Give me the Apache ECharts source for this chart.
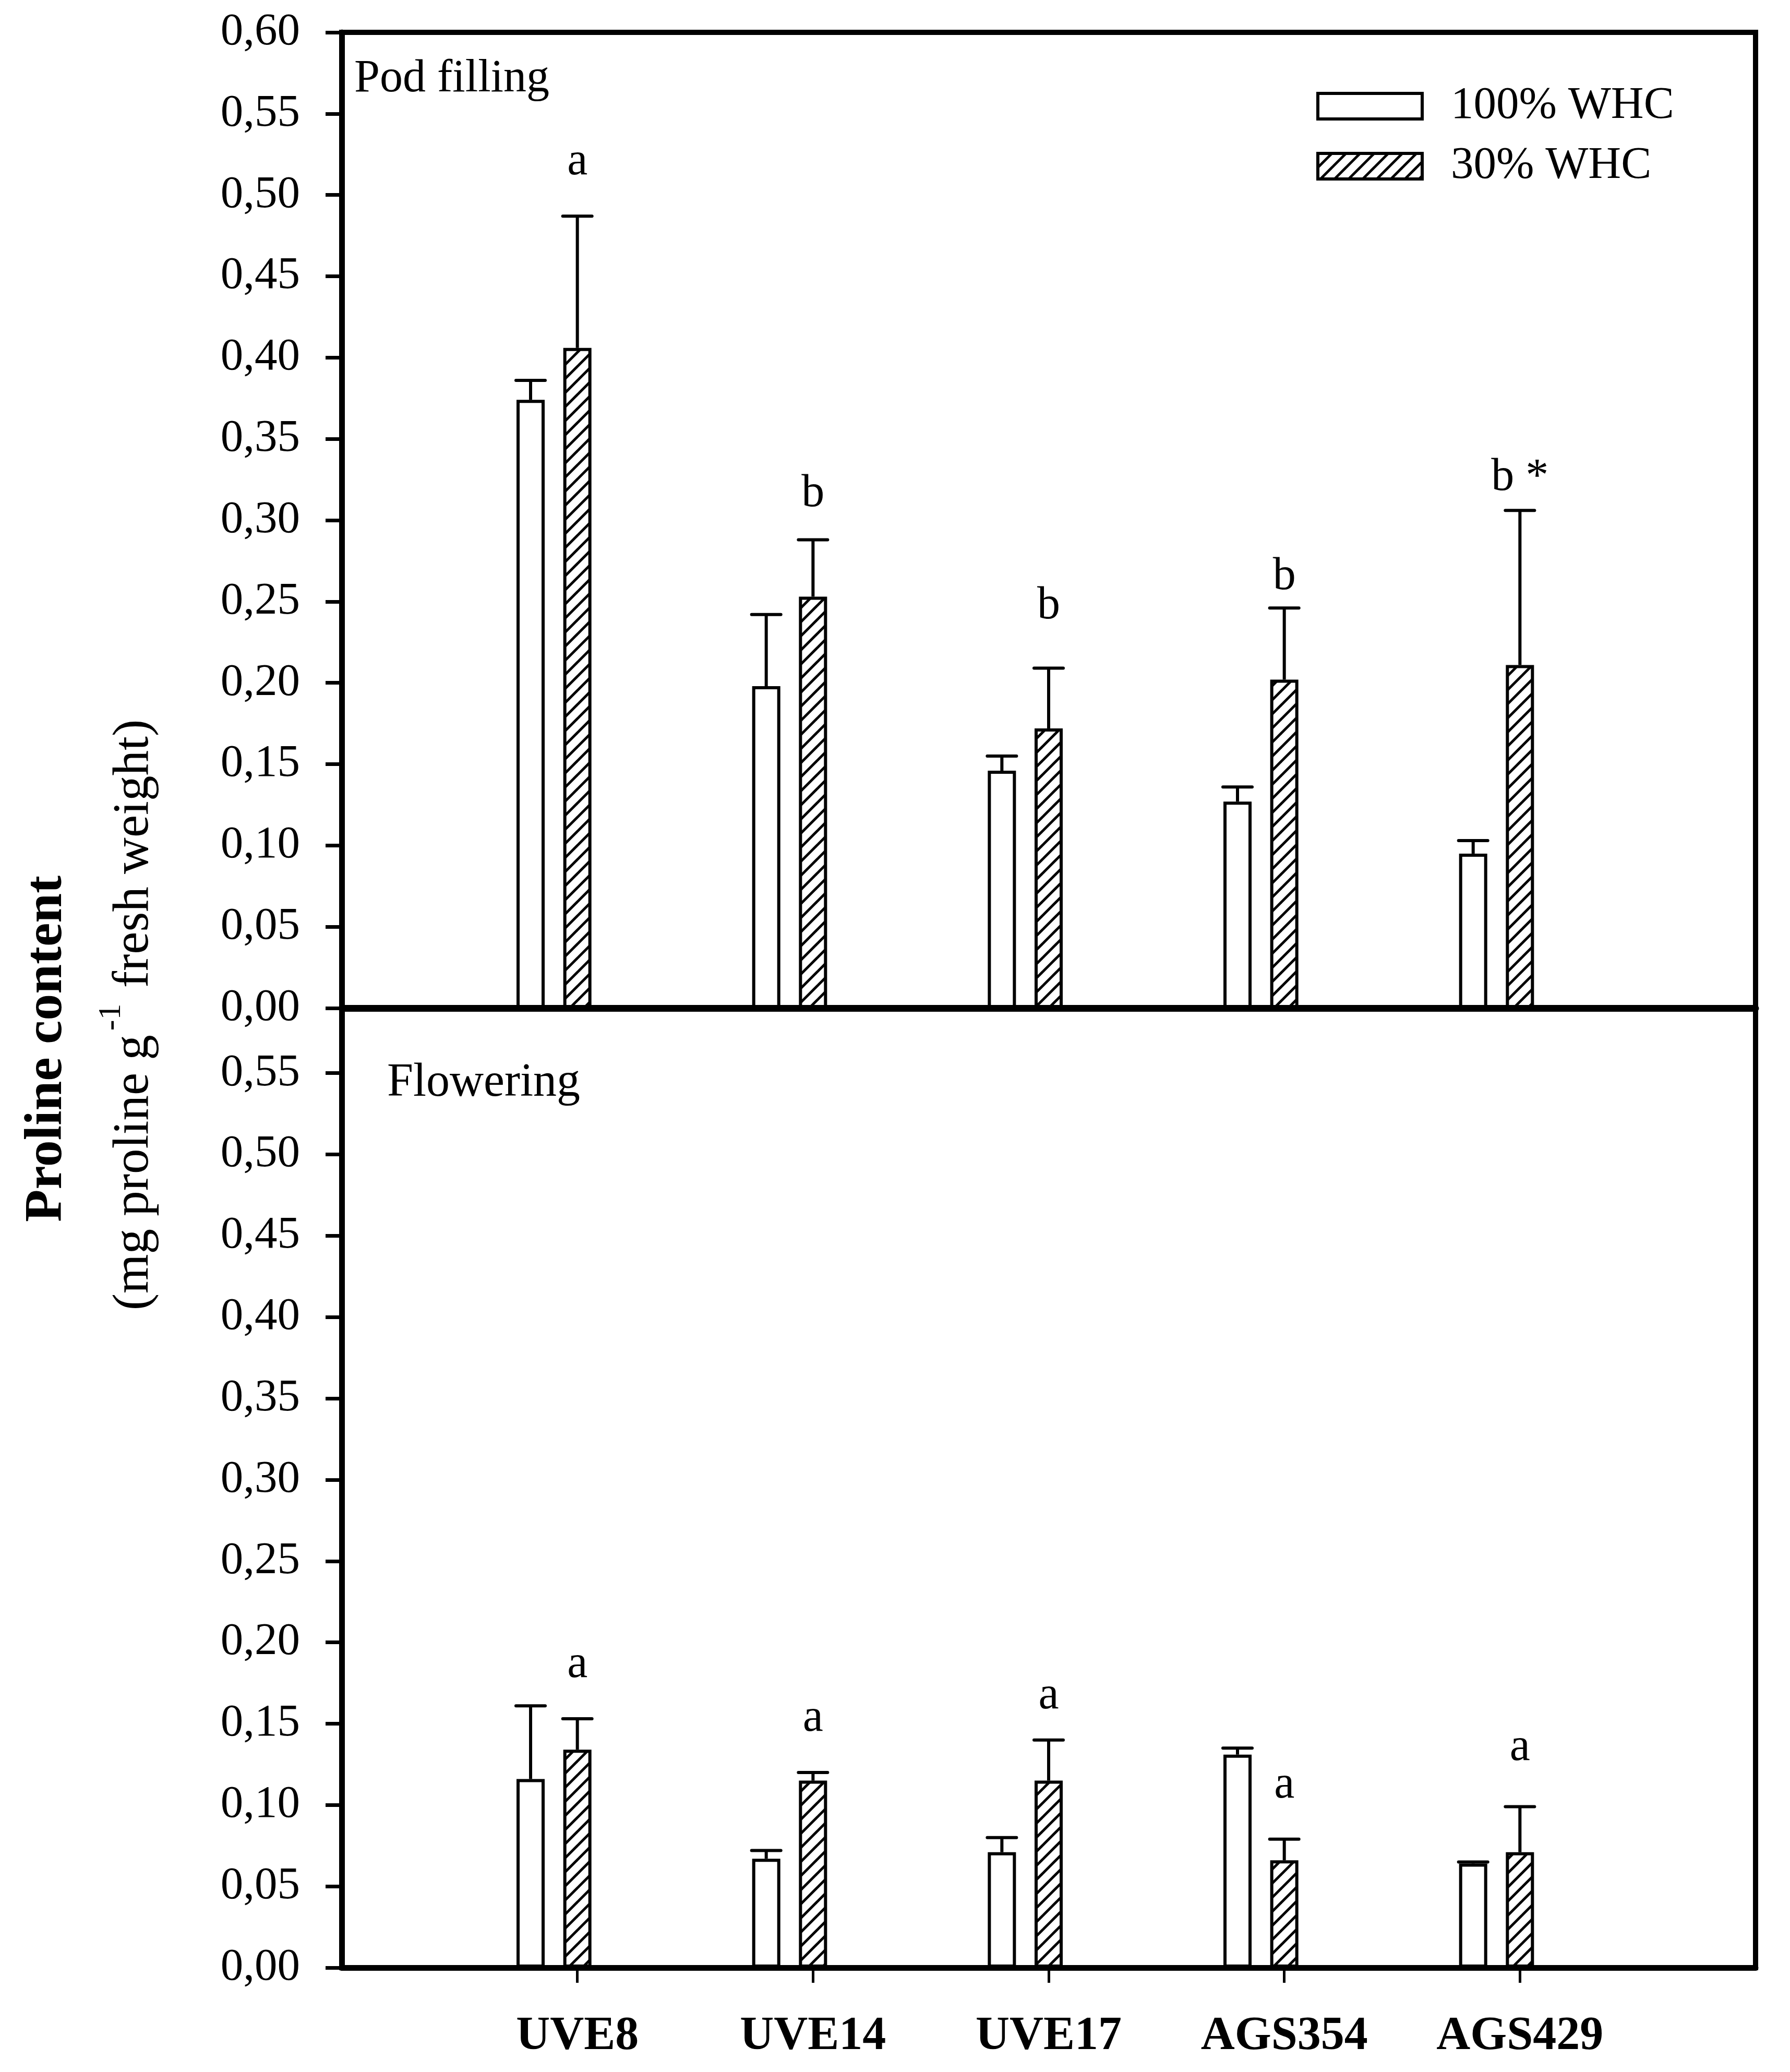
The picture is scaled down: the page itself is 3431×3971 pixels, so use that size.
<!DOCTYPE html>
<html>
<head>
<meta charset="utf-8">
<script src="https://cdn.jsdelivr.net/npm/echarts@6/dist/echarts.min.js"></script>
<style>
html,body{margin:0;padding:0;background:#fff;}
#chart{width:3431px;height:3971px;}
</style>
</head>
<body>
<div id="chart"></div>
<script>
// ---------------- data ----------------
const categories = ['UVE8', 'UVE14', 'UVE17', 'AGS354', 'AGS429'];
const seriesNames = ['100% WHC', '30% WHC'];

// Pod filling (upper panel)
const podFull = [0.374, 0.198, 0.146, 0.127, 0.095];
const podFullSE = [0.012, 0.044, 0.009, 0.009, 0.008];
const podLow = [0.406, 0.253, 0.172, 0.202, 0.211];
const podLowSE = [0.081, 0.035, 0.037, 0.044, 0.095];
const podLetters = ['a', 'b', 'b', 'b', 'b *'];
const podLetterY = [0.520, 0.316, 0.247, 0.265, 0.326];

// Flowering (lower panel)
const flowFull = [0.116, 0.067, 0.071, 0.131, 0.064];
const flowFullSE = [0.045, 0.005, 0.009, 0.004, 0.001];
const flowLow = [0.134, 0.115, 0.115, 0.066, 0.071];
const flowLowSE = [0.019, 0.005, 0.025, 0.013, 0.028];
const flowLetters = ['a', 'a', 'a', 'a', 'a'];
const flowLetterY = [0.186, 0.153, 0.167, 0.112, 0.135];

// axes
const yInterval = 0.05;
const podYMax = 0.60;
const flowYMax = 0.59;
const panelTitles = ['Pod filling', 'Flowering'];
const yTitle = 'Proline content';
const ySubtitleA = '(mg proline g';
const ySubtitleSup = '-1';
const ySubtitleB = ' fresh weight)';

// ---------------- styles ----------------
const FONT = 'Liberation Serif';
const BAR_W = 54;
const GAP_RATIO = 0.66;
const BAR_STEP = BAR_W * (1 + GAP_RATIO);
const CAP = 28;

const axisCats = [''].concat(categories, ['']);
const pad = arr => ['-'].concat(arr, ['-']);

function makeHatch() {
  const s = 27;
  const c = document.createElement('canvas');
  c.width = s; c.height = s;
  const g = c.getContext('2d');
  g.fillStyle = '#fff';
  g.fillRect(0, 0, s, s);
  g.strokeStyle = '#000';
  g.lineWidth = 5;
  for (const dx of [-s, 0, s]) {
    g.beginPath();
    g.moveTo(dx - 2, s + 2);
    g.lineTo(dx + s + 2, -2);
    g.stroke();
  }
  return c;
}
const hatch = { image: makeHatch(), repeat: 'repeat' };

const fmt = v => {
  const r = v / yInterval;
  if (Math.abs(r - Math.round(r)) > 1e-6) return '';
  return v.toFixed(2).replace('.', ',');
};

function yAxisCfg(gridIndex, max) {
  return {
    type: 'value', gridIndex, min: 0, max, interval: yInterval,
    axisLine: { show: true, lineStyle: { color: '#000', width: 11 } },
    axisTick: { show: true, inside: false, length: 31, lineStyle: { color: '#000', width: 7 } },
    axisLabel: { show: true, margin: 80, formatter: fmt, showMaxLabel: gridIndex === 0,
      fontFamily: FONT, fontSize: 87, color: '#000' },
    splitLine: { show: false }
  };
}

function barSeries(gi, full, low) {
  const common = { type: 'bar', xAxisIndex: gi, yAxisIndex: gi, barWidth: BAR_W,
    barGap: (GAP_RATIO * 100) + '%', animation: false, silent: true };
  return [
    Object.assign({}, common, { name: seriesNames[0], data: pad(full),
      itemStyle: { color: '#fff', borderColor: '#000', borderWidth: 6 } }),
    Object.assign({}, common, { name: seriesNames[1], data: pad(low),
      itemStyle: { color: hatch, borderColor: '#000', borderWidth: 6 } }),
    Object.assign({}, common, { name: 'spacer', data: pad(categories.map(() => '-')),
      itemStyle: { color: 'transparent' } })
  ];
}

function errSeries(gi, full, fullSE, low, lowSE) {
  const data = [];
  for (let i = 0; i < categories.length; i++) {
    data.push([i + 1, full[i], fullSE[i], 0]);
    data.push([i + 1, low[i], lowSE[i], 1]);
  }
  return {
    type: 'custom', xAxisIndex: gi, yAxisIndex: gi, data, animation: false, silent: true, z: 5,
    encode: { x: 0, y: 1 },
    renderItem: function (params, api) {
      const cat = api.value(0), mean = api.value(1), se = api.value(2), k = api.value(3);
      const p0 = api.coord([cat, mean]);
      const p1 = api.coord([cat, mean + se]);
      const x = p0[0] + (k === 0 ? -BAR_STEP : 0);
      return {
        type: 'group',
        children: [
          { type: 'line', shape: { x1: x, y1: p0[1], x2: x, y2: p1[1] },
            style: { stroke: '#000', lineWidth: 6 } },
          { type: 'line', shape: { x1: x - CAP, y1: p1[1], x2: x + CAP, y2: p1[1] },
            style: { stroke: '#000', lineWidth: 6, lineCap: 'round' } }
        ]
      };
    }
  };
}

function letterSeries(gi, letters, ys) {
  return {
    type: 'custom', xAxisIndex: gi, yAxisIndex: gi, animation: false, silent: true, z: 6,
    data: ys.map((y, i) => [i + 1, y]),
    encode: { x: 0, y: 1 },
    renderItem: function (params, api) {
      const p = api.coord([api.value(0), api.value(1)]);
      return {
        type: 'text', x: p[0], y: p[1],
        style: { text: letters[params.dataIndex], fontFamily: FONT, fontSize: 88, fill: '#000',
          align: 'center', verticalAlign: 'middle', textAlign: 'center', textVerticalAlign: 'middle' }
      };
    }
  };
}

const chart = echarts.init(document.getElementById('chart'), null, { renderer: 'canvas' });

const option = {
  animation: false,
  backgroundColor: '#fff',
  grid: [
    { left: 655, right: 66, top: 62, height: 1870, show: true, borderColor: '#000', borderWidth: 10, backgroundColor: 'transparent', containLabel: false },
    { left: 655, right: 66, top: 1932, height: 1839, show: true, borderColor: '#000', borderWidth: 10, backgroundColor: 'transparent', containLabel: false }
  ],
  xAxis: [
    { type: 'category', gridIndex: 0, data: axisCats, boundaryGap: false,
      axisLine: { show: true, lineStyle: { color: '#000', width: 13 } },
      axisTick: { show: false }, axisLabel: { show: false }, splitLine: { show: false } },
    { type: 'category', gridIndex: 1, data: axisCats, boundaryGap: false,
      axisLine: { show: true, lineStyle: { color: '#000', width: 11 } },
      axisTick: { show: true, length: 29, interval: (i, v) => v !== '', lineStyle: { color: '#000', width: 5 } },
      axisLabel: { show: true, margin: 88, interval: 0, fontFamily: FONT, fontSize: 90, fontWeight: 'bold', color: '#000' },
      splitLine: { show: false } }
  ],
  yAxis: [yAxisCfg(0, podYMax), yAxisCfg(1, flowYMax)],
  legend: {
    data: seriesNames, orient: 'vertical', left: 2523, top: 160, padding: 0,
    itemWidth: 200, itemHeight: 49, itemGap: 28, icon: 'rect', selectedMode: false,
    itemStyle: { borderColor: '#000', borderWidth: 6 },
    textStyle: { fontFamily: FONT, fontSize: 87, color: '#000', padding: [0, 0, 0, 50] }
  },
  graphic: [
    { type: 'text', x: 91, y: 2010, rotation: Math.PI / 2, silent: true,
      style: { text: yTitle, fontFamily: FONT, fontSize: 102, fontWeight: 'bold', fill: '#000',
        align: 'center', verticalAlign: 'middle', textAlign: 'center', textVerticalAlign: 'middle' } },
    { type: 'text', x: 258, y: 1945, rotation: Math.PI / 2, silent: true,
      style: { text: '{n|' + ySubtitleA + '}{s|' + ySubtitleSup + '}{n|' + ySubtitleB + '}',
        rich: {
          n: { fontFamily: FONT, fontSize: 97, fill: '#000', lineHeight: 150, verticalAlign: 'middle' },
          s: { fontFamily: FONT, fontSize: 62, fill: '#000', lineHeight: 62, verticalAlign: 'top', padding: [0, 6, 0, 8] }
        },
        fill: '#000', align: 'center', verticalAlign: 'middle', textAlign: 'center', textVerticalAlign: 'middle' } },
    { type: 'text', x: 679, y: 152, silent: true,
      style: { text: panelTitles[0], fontFamily: FONT, fontSize: 88, fill: '#000',
        align: 'left', verticalAlign: 'middle', textAlign: 'left', textVerticalAlign: 'middle' } },
    { type: 'text', x: 742, y: 2076, silent: true,
      style: { text: panelTitles[1], fontFamily: FONT, fontSize: 90, fill: '#000',
        align: 'left', verticalAlign: 'middle', textAlign: 'left', textVerticalAlign: 'middle' } }
  ],
  series: [].concat(
    barSeries(0, podFull, podLow),
    barSeries(1, flowFull, flowLow),
    [errSeries(0, podFull, podFullSE, podLow, podLowSE),
     errSeries(1, flowFull, flowFullSE, flowLow, flowLowSE),
     letterSeries(0, podLetters, podLetterY),
     letterSeries(1, flowLetters, flowLetterY)]
  )
};
chart.setOption(option);
</script>
</body>
</html>
